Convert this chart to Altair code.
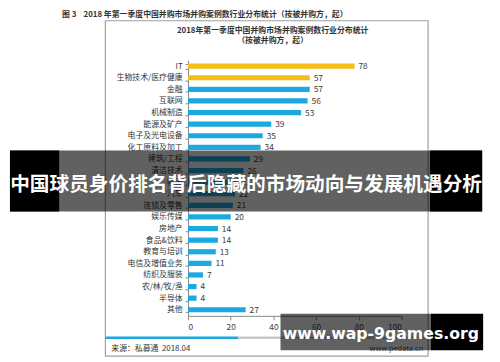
import altair as alt
import pandas as pd

categories = ["IT", "生物技术/医疗健康", "金融", "互联网", "机械制造", "能源及矿产",
              "电子及光电设备", "化工原料及加工", "建筑/工程", "清洁技术", "物流", "汽车",
              "连锁及零售", "娱乐传媒", "房地产", "食品&饮料", "教育与培训", "电信及增值业务",
              "纺织及服装", "农/林/牧/渔", "半导体", "其他"]
values = [78, 57, 57, 56, 53, 39, 35, 34, 29, 26, 23, 22, 21, 20, 14, 14, 13, 11, 7, 4, 4, 27]
highlight = ["IT", "生物技术/医疗健康"]
x_ticks = [0, 20, 40, 60, 80, 100]

caption = "图 3\u00a0\u00a0\u00a0 2018 年第一季度中国并购市场并购案例数行业分布统计（按被并购方，起）"
title1 = "2018年第一季度中国并购市场并购案例数行业分布统计"
title2 = "（按被并购方，起）"
source = "来源：私募通\u00a0 2018.04"
site = "www.pedata.cn"
banner = "中国球员身价排名背后隐藏的市场动向与发展机遇分析"
watermark = "www.wap-9games.org"

FONT = "Noto Sans CJK SC"

df = pd.DataFrame({"cat": categories, "val": values})
df["grp"] = ["hi" if c in highlight else "lo" for c in categories]

one = pd.DataFrame({"k": [0]})

def rect(x, x2, y, y2, **kw):
    return alt.Chart(one).mark_rect(**kw).encode(
        x=alt.value(x), x2=alt.value(x2), y=alt.value(y), y2=alt.value(y2))

def text(s, x, y, font=FONT, **kw):
    return alt.Chart(one).mark_text(text=s, font=font, baseline="middle", **kw).encode(
        x=alt.value(x), y=alt.value(y))

box = rect(-84, 244, -40, 301, filled=False, stroke="#a0a0a0", strokeWidth=1.2)

base = alt.Chart(df)
bars = base.mark_bar().encode(
    y=alt.Y("cat:N", sort=categories, title=None,
            scale=alt.Scale(paddingInner=0.55, paddingOuter=0.3),
            axis=alt.Axis(tickBand="extent", tickSize=3, labelFontSize=8,
                          labelFont=FONT, labelColor="#333333", labelPadding=3,
                          domainColor="#888888", tickColor="#888888", zindex=0)),
    x=alt.X("val:Q", title=None,
            scale=alt.Scale(domain=[0, 100], nice=False),
            axis=alt.Axis(values=x_ticks, grid=False, tickSize=4, labelPadding=3,
                          labelFontSize=8.5, labelFont=FONT, labelColor="#444444",
                          domainColor="#888888", tickColor="#888888", zindex=0)),
    color=alt.Color("grp:N", legend=None,
                    scale=alt.Scale(domain=["hi", "lo"], range=["#F5BD18", "#1DA8E0"])),
)
labels = base.mark_text(align="left", dx=4, fontSize=8.5, font=FONT, color="#404040").encode(
    y=alt.Y("cat:N", sort=categories),
    x="val:Q",
    text="val:Q",
)

layers = [
    box,
    bars,
    labels,
    text(caption, -128, -46, align="left", fontSize=8, fontWeight="bold", color="#333333"),
    text(title1, 86, -30, align="center", fontSize=8, fontWeight="bold", color="#333333"),
    text(title2, 86, -19, align="center", fontSize=8, fontWeight="bold", color="#333333"),
    rect(-84, 51, 281, 283.5, color="#1DA8E0"),
    rect(51, 244, 281, 283.5, color="#c8c8c8"),
    text(source, -78, 294, align="left", fontSize=8, color="#333333"),
    text(site, 239, 294, align="right", fontSize=7.5, color="#555555"),
    rect(-181, 299, 92, 154, color="#000000", opacity=0.62),
    rect(-181, -131, 92, 154, color="#000000"),
    rect(246, 299, 92, 154, color="#000000"),
    text(banner, 59, 127, align="center", fontSize=20,
         fontWeight="bold", color="#ffffff"),
    rect(94, 247, 258, 295, color="#000000", opacity=0.62),
    rect(247, 300, 258, 295, color="#000000"),
    text(watermark, 196, 279, align="center", fontSize=16,
         fontWeight="bold", color="#ffffff", font="DejaVu Sans"),
]

chart = alt.layer(*layers).properties(
    width=217, height=260,
    padding={"left": 183, "top": 50, "right": 92, "bottom": 44},
    autosize=alt.AutoSizeParams(type="none"),
    background="#ffffff",
).configure_view(stroke=None)

chart.save("out.html", embed_options={"renderer": "svg", "actions": False})
